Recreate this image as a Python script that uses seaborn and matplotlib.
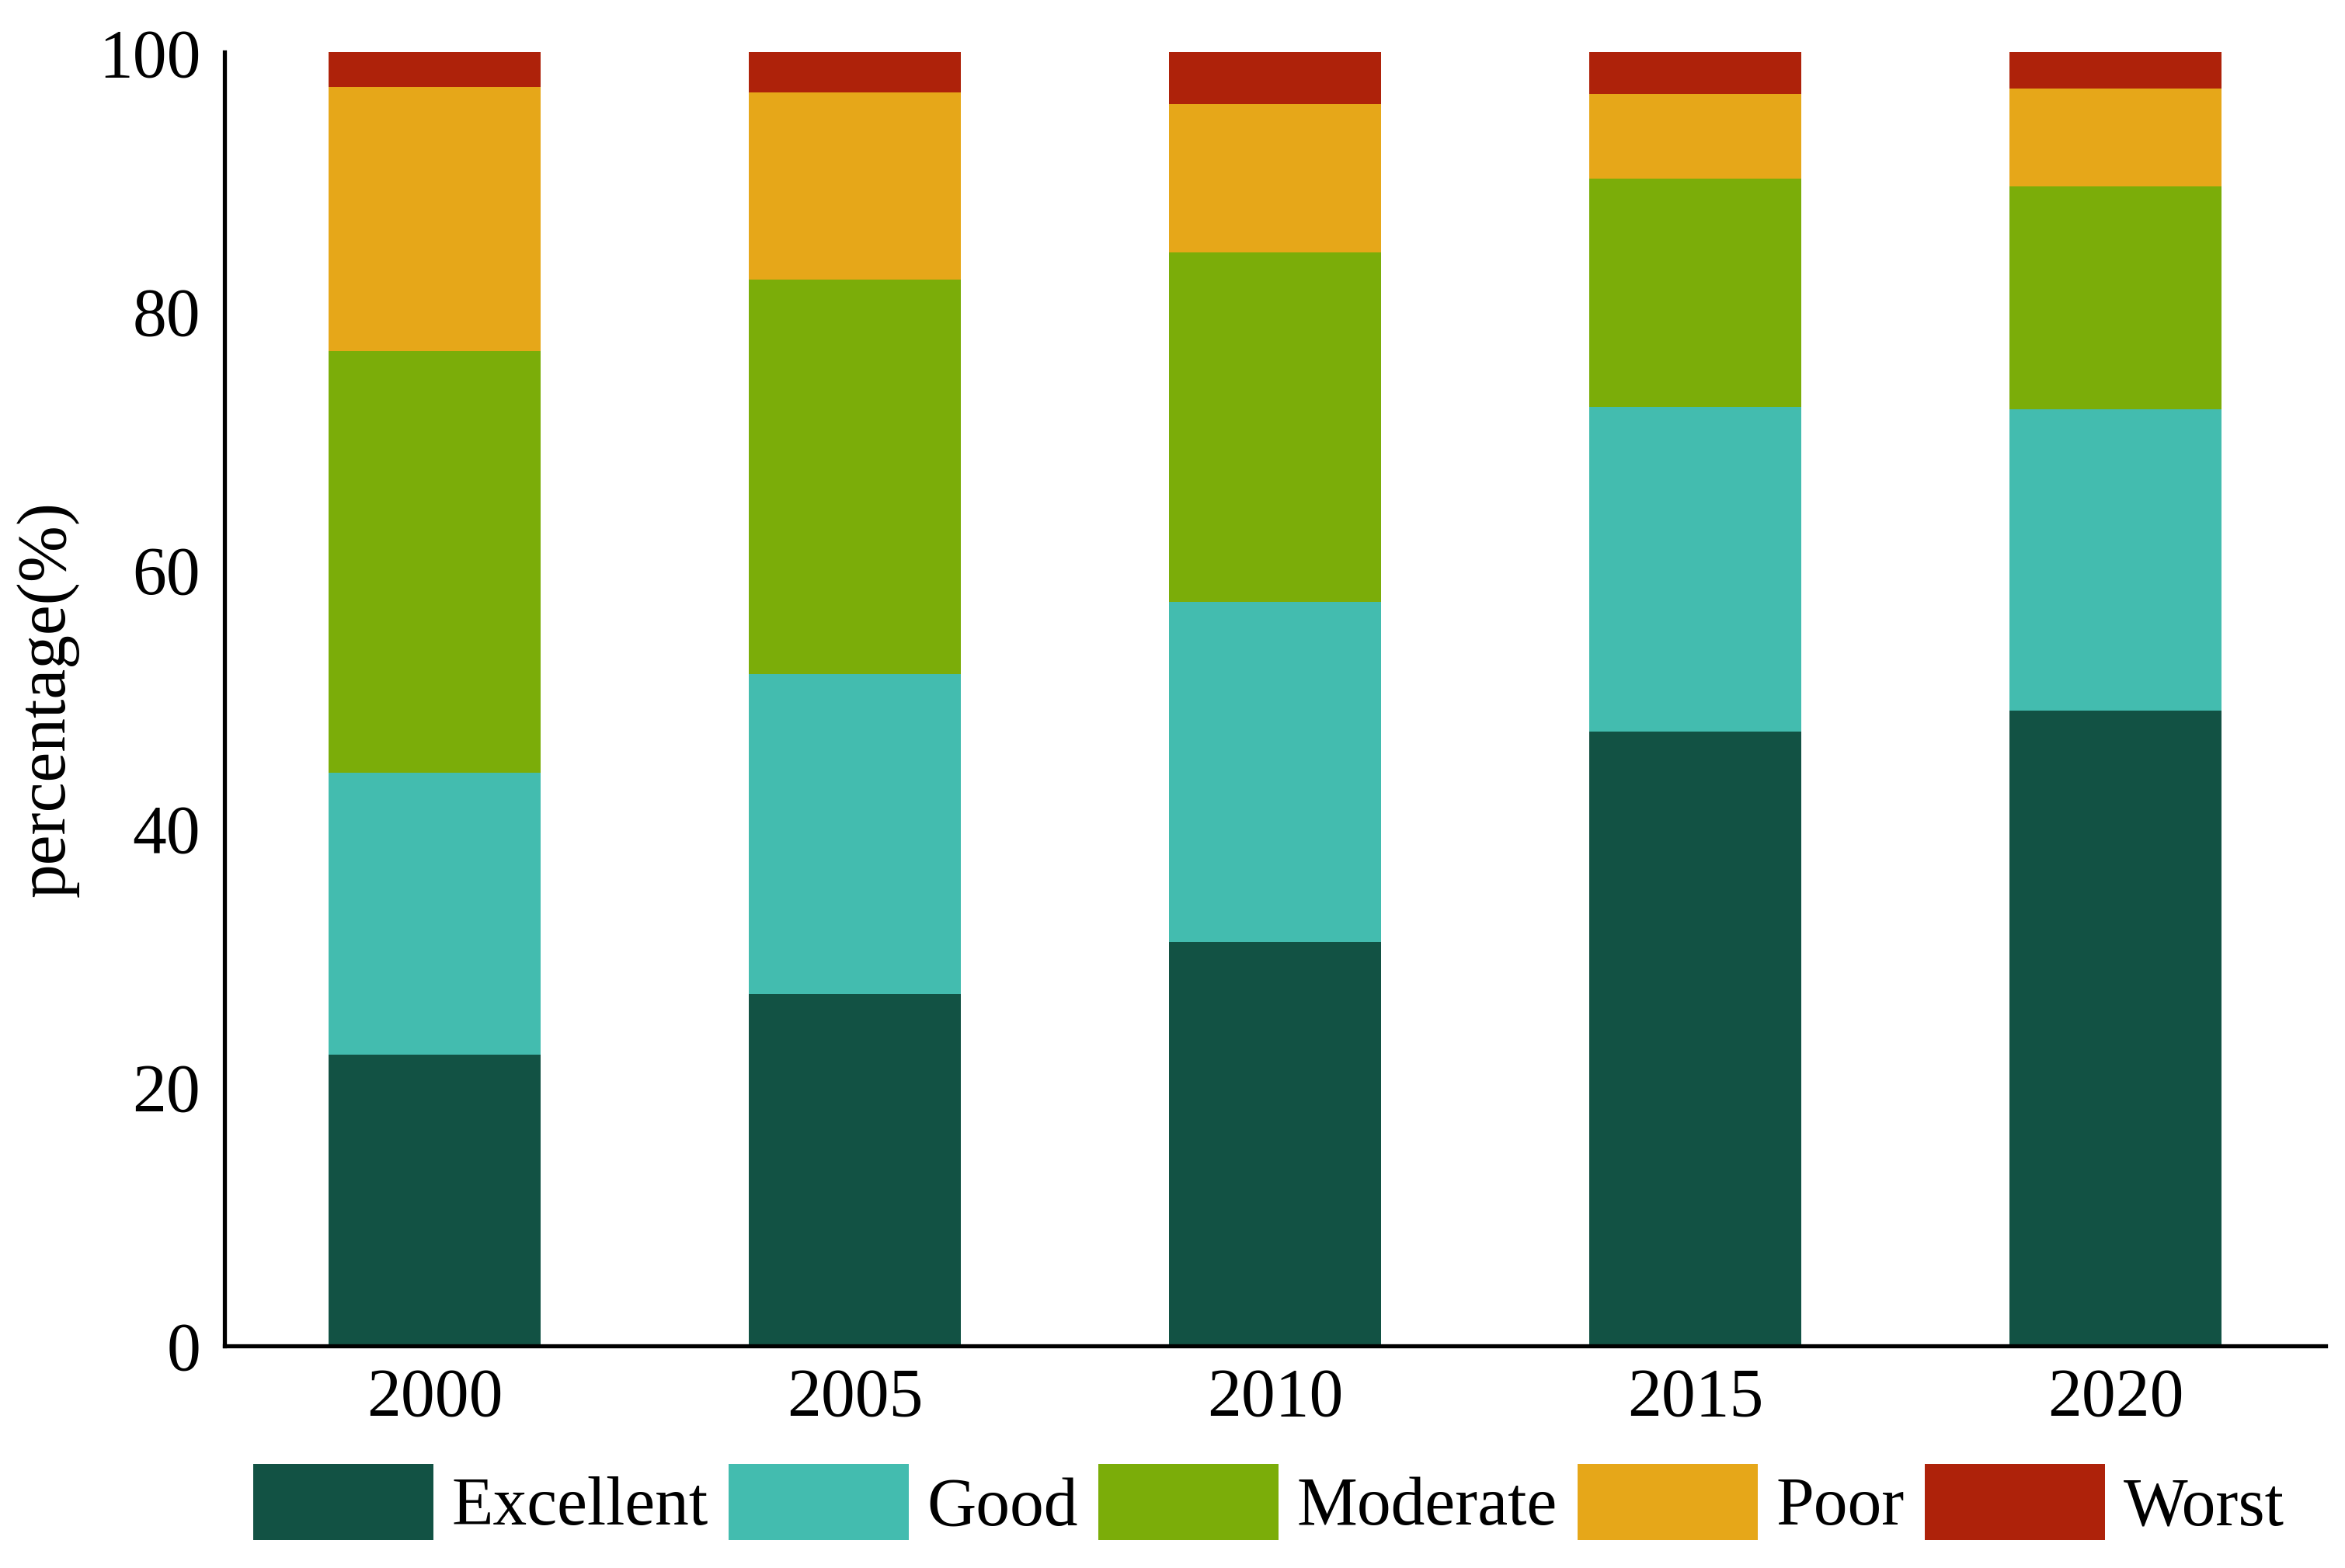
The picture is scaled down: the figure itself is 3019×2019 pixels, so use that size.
import matplotlib
matplotlib.use("Agg")
import matplotlib.pyplot as plt
import seaborn as sns
import pandas as pd
import numpy as np

years = ["2000", "2005", "2010", "2015", "2020"]
excellent = [22.5, 27.2, 31.2, 47.5, 49.1]
good = [21.8, 24.7, 26.3, 25.1, 23.3]
moderate = [32.6, 30.5, 27.0, 17.6, 17.2]
poor = [20.4, 14.5, 11.5, 6.6, 7.6]
worst = [2.7, 3.1, 4.0, 3.2, 2.8]

categories = ["Excellent", "Good", "Moderate", "Poor", "Worst"]
colors = ["#125244", "#43BCAF", "#7BAD09", "#E6A719", "#AE220A"]

sns.set_theme(style="white")
plt.rcParams["font.family"] = ["Liberation Serif", "DejaVu Serif"]
plt.rcParams["text.color"] = "black"
plt.rcParams["axes.labelcolor"] = "black"
plt.rcParams["xtick.color"] = "black"
plt.rcParams["ytick.color"] = "black"

series = [excellent, good, moderate, poor, worst]
cum = np.cumsum(np.array(series), axis=0)
df = pd.DataFrame({"year": years})
for c, vals in zip(categories, cum):
    df[c] = vals

fig = plt.figure(figsize=(30.19, 20.19), dpi=100)
ax = fig.add_axes([0.0957, 0.1417, 0.896, 0.825])

for c, col in reversed(list(zip(categories, colors))):
    sns.barplot(data=df, x="year", y=c, color=col, saturation=1, width=0.505,
                ax=ax, label=c, linewidth=0)

h, l = ax.get_legend_handles_labels()
if ax.get_legend() is not None:
    ax.get_legend().remove()

ax.set_xlim(-0.5, 4.5)
ax.set_ylim(0, 100)
ax.set_yticks([0, 20, 40, 60, 80, 100])
ax.set_xlabel("")
ax.set_ylabel("percentage(%)", fontsize=63, labelpad=18, color="black")
for s in ["top", "right"]:
    ax.spines[s].set_visible(False)
for s in ["left", "bottom"]:
    ax.spines[s].set_linewidth(3.8)
    ax.spines[s].set_color("black")
ax.tick_params(axis="y", direction="in", length=13, width=3.8, labelsize=63, pad=22,
               colors="black", labelcolor="black")
ax.tick_params(axis="x", length=0, labelsize=63, pad=20, colors="black", labelcolor="black")

order = [l.index(c) for c in categories]
fig.legend([h[i] for i in order], [l[i] for i in order], loc="center",
           bbox_to_anchor=(0.541, 0.042), ncol=5, frameon=False, fontsize=63,
           handlelength=2.65, handleheight=1.35, handletextpad=0.27,
           columnspacing=0.3, borderaxespad=0, labelcolor="black")

fig.savefig("out.png", dpi=100)
